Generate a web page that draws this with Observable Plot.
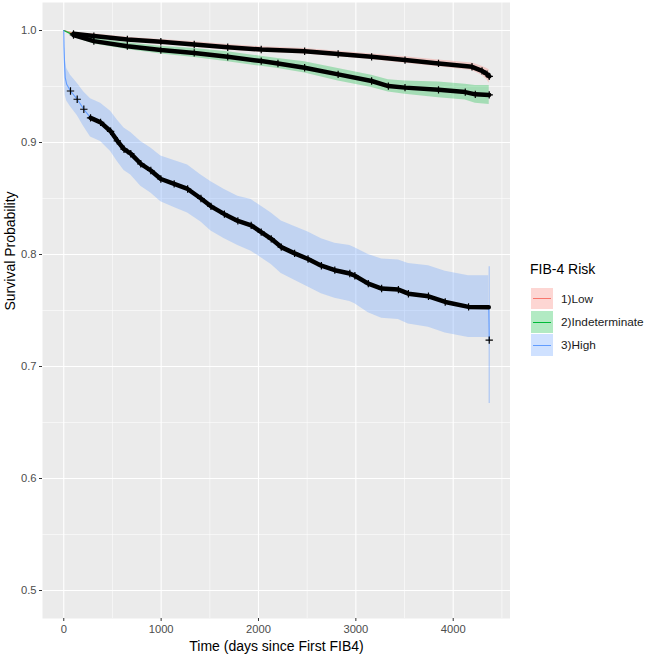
<!DOCTYPE html>
<html><head><meta charset="utf-8">
<script src="https://cdn.jsdelivr.net/npm/d3@7"></script>
<script src="https://cdn.jsdelivr.net/npm/@observablehq/plot@0.6"></script>
<style>
body{margin:0;background:#fff;font-family:"Liberation Sans",Arial,sans-serif;}
#wrap{position:relative;width:649px;height:658px;overflow:hidden;}
#chart{position:absolute;left:0;top:0;}
#legend{position:absolute;left:530px;top:261px;color:#000;}
#legend .title{font-size:14px;height:20px;line-height:16px;margin-bottom:6px;}
#legend .row{display:flex;align-items:center;height:23.3px;}
#legend .key{position:relative;width:22px;height:21.5px;margin-left:1px;}
#legend .key .fill{position:absolute;inset:0;opacity:0.3;}
#legend .key .ln{position:absolute;left:2px;right:2px;top:10.5px;height:1px;}
#legend .lab{font-size:11.8px;margin-left:8px;color:#1a1a1a;}
</style></head>
<body><div id="wrap"><div id="chart"></div><div id="legend"></div></div>
<script>
// ---- data ----
const groups = ["1)Low", "2)Indeterminate", "3)High"];
const colors = ["#F8766D", "#00BA38", "#619CFF"];
const legendTitle = "FIB-4 Risk";
const xLabel = "Time (days since First FIB4)";
const yLabel = "Survival Probability";
const xTicks = [0, 1000, 2000, 3000, 4000];
const xMinor = [500, 1500, 2500, 3500, 4500];
const yTicks = [0.5, 0.6, 0.7, 0.8, 0.9, 1.0];
const yMinor = [0.55, 0.65, 0.75, 0.85, 0.95];

const lowTime  = [0, 100, 309, 653, 997, 1340, 1684, 2028, 2474, 2818, 3162, 3505, 3849, 4193, 4296, 4347, 4370];
const lowSurv  = [1.0, 0.997, 0.995, 0.992, 0.990, 0.9875, 0.985, 0.983, 0.9815, 0.979, 0.9765, 0.9736, 0.9706, 0.9676, 0.964, 0.961, 0.959];
const lowUpper = [1.0, 0.998, 0.997, 0.994, 0.992, 0.990, 0.9875, 0.9855, 0.984, 0.9815, 0.979, 0.9765, 0.9736, 0.971, 0.968, 0.966, 0.965];
const lowLower = [1.0, 0.996, 0.993, 0.990, 0.988, 0.985, 0.9825, 0.9805, 0.979, 0.9765, 0.974, 0.9707, 0.9676, 0.9642, 0.960, 0.956, 0.953];

const indTime  = [0, 100, 309, 653, 997, 1340, 1684, 2028, 2200, 2474, 2818, 3162, 3334, 3505, 3849, 4124, 4227, 4370];
const indSurv  = [1.0, 0.996, 0.9905, 0.986, 0.9825, 0.980, 0.9765, 0.9727, 0.9705, 0.9667, 0.9608, 0.9549, 0.9504, 0.949, 0.947, 0.945, 0.943, 0.9425];
const indUpper = [1.0, 0.998, 0.993, 0.989, 0.986, 0.984, 0.981, 0.977, 0.975, 0.972, 0.966, 0.960, 0.956, 0.955, 0.954, 0.952, 0.951, 0.951];
const indLower = [1.0, 0.994, 0.988, 0.983, 0.979, 0.976, 0.972, 0.968, 0.966, 0.962, 0.955, 0.949, 0.945, 0.943, 0.940, 0.938, 0.935, 0.934];

const highTime  = [0, 3, 8, 15, 30, 69, 138, 206, 275, 378, 481, 550, 619, 688, 791, 894, 997, 1134, 1272, 1409, 1512, 1650, 1788, 1925, 2028, 2131, 2234, 2371, 2509, 2646, 2784, 2938, 2990, 3128, 3265, 3437, 3540, 3746, 3918, 4158, 4365, 4370];
const highSurv  = [1.0, 0.985, 0.97, 0.958, 0.952, 0.946, 0.9386, 0.9297, 0.922, 0.918, 0.910, 0.9015, 0.894, 0.890, 0.881, 0.875, 0.8674, 0.863, 0.8585, 0.850, 0.843, 0.836, 0.830, 0.826, 0.820, 0.814, 0.8066, 0.801, 0.796, 0.790, 0.786, 0.783, 0.781, 0.774, 0.7696, 0.7687, 0.765, 0.7627, 0.7576, 0.7532, 0.753, 0.7236];
const highUpper = [1.0, 0.995, 0.985, 0.975, 0.966, 0.960, 0.953, 0.945, 0.939, 0.935, 0.928, 0.920, 0.913, 0.909, 0.901, 0.895, 0.888, 0.884, 0.880, 0.871, 0.865, 0.858, 0.852, 0.849, 0.843, 0.837, 0.830, 0.825, 0.820, 0.814, 0.810, 0.808, 0.806, 0.800, 0.796, 0.795, 0.792, 0.790, 0.785, 0.781, 0.781, 0.789];
const highLower = [1.0, 0.975, 0.955, 0.942, 0.937, 0.932, 0.924, 0.914, 0.905, 0.901, 0.892, 0.883, 0.875, 0.871, 0.861, 0.855, 0.847, 0.842, 0.837, 0.829, 0.821, 0.814, 0.808, 0.803, 0.797, 0.791, 0.783, 0.777, 0.771, 0.765, 0.761, 0.758, 0.756, 0.748, 0.743, 0.742, 0.738, 0.735, 0.730, 0.726, 0.726, 0.667];

// ---- build table ----
function rows(group, T, S, L, U) {
  return T.map((t, i) => ({group, t, s: S[i], lo: L[i], hi: U[i]}));
}
const low = rows(groups[0], lowTime, lowSurv, lowLower, lowUpper);
const ind = rows(groups[1], indTime, indSurv, indLower, indUpper);
const high = rows(groups[2], highTime, highSurv, highLower, highUpper);
const all = [...low, ...ind, ...high];
const lastHigh = high[high.length - 1];
const ribbons = all.filter(d => d !== lastHigh);

// censor-dense stretches (thick black band of overlapping "+" marks)
const bandLow = low.filter(d => d.t >= 15);
const bandInd = ind.filter(d => d.t >= 15);
const bandHigh = high.filter(d => d.t >= 275 && d.t <= 4365);
const plusPts = [
  ...low.filter(d => d.t > 0), ...ind.filter(d => d.t > 0),
  ...high.filter(d => d.t >= 69 && d.t !== 4365)
];

const color = {domain: groups, range: colors};
const font = '"Liberation Sans", Arial, sans-serif';

const chart = Plot.plot({
  width: 510, height: 658,
  marginLeft: 42, marginRight: 0, marginTop: 2, marginBottom: 40,
  style: {fontFamily: font, background: "transparent"},
  x: {domain: [-218.5, 4588.5]},
  y: {domain: [0.475, 1.025]},
  color,
  marks: [
    Plot.frame({fill: "#EBEBEB", stroke: null}),
    Plot.ruleX(xMinor, {stroke: "#fff", strokeWidth: 0.55}),
    Plot.ruleY(yMinor, {stroke: "#fff", strokeWidth: 0.55}),
    Plot.ruleX(xTicks, {stroke: "#fff", strokeWidth: 1.1}),
    Plot.ruleY(yTicks, {stroke: "#fff", strokeWidth: 1.1}),
    Plot.areaY(ribbons, {x: "t", y1: "lo", y2: "hi", z: "group", fill: "group", fillOpacity: 0.3, curve: "linear"}),
    Plot.ruleX([lastHigh], {x: "t", y1: "lo", y2: "hi", stroke: colors[2], strokeOpacity: 0.45, strokeWidth: 1.2}),
    Plot.lineY(all, {x: "t", y: "s", z: "group", stroke: "group", strokeWidth: 1.1, curve: "linear"}),
    Plot.lineY(bandLow, {x: "t", y: "s", stroke: "#000", strokeWidth: 4.5}),
    Plot.lineY(bandInd, {x: "t", y: "s", stroke: "#000", strokeWidth: 4.5}),
    Plot.lineY(bandHigh, {x: "t", y: "s", stroke: "#000", strokeWidth: 4.5}),
    Plot.dot(plusPts, {x: "t", y: "s", symbol: "plus", r: 2.5, stroke: "#000", strokeWidth: 1.2}),
    Plot.axisX({ticks: xTicks, tickFormat: d => String(d), tickSize: 3, tickPadding: 4, fontSize: 11.2, stroke: "#333333", fill: "#4D4D4D", label: null}),
    Plot.axisY({ticks: yTicks, tickFormat: d3.format(".1f"), tickSize: 3, tickPadding: 3, fontSize: 11.2, stroke: "#333333", fill: "#4D4D4D", label: null}),
    Plot.text([xLabel], {frameAnchor: "bottom", dy: 28, text: d => d, fontSize: 14, fill: "#000", lineAnchor: "middle"}),
    Plot.text([yLabel], {frameAnchor: "left", dx: -32, text: d => d, fontSize: 14, fill: "#000", rotate: -90, lineAnchor: "middle"})
  ]
});
document.getElementById("chart").appendChild(chart);

// ---- legend ----
const lg = document.getElementById("legend");
const t = document.createElement("div");
t.className = "title"; t.textContent = legendTitle; lg.appendChild(t);
groups.forEach((g, i) => {
  const r = document.createElement("div"); r.className = "row";
  const k = document.createElement("div"); k.className = "key";
  const f = document.createElement("div"); f.className = "fill"; f.style.background = colors[i];
  const l = document.createElement("div"); l.className = "ln"; l.style.background = colors[i];
  k.appendChild(f); k.appendChild(l);
  const lab = document.createElement("span"); lab.className = "lab"; lab.textContent = g;
  r.appendChild(k); r.appendChild(lab); lg.appendChild(r);
});
</script></body></html>
